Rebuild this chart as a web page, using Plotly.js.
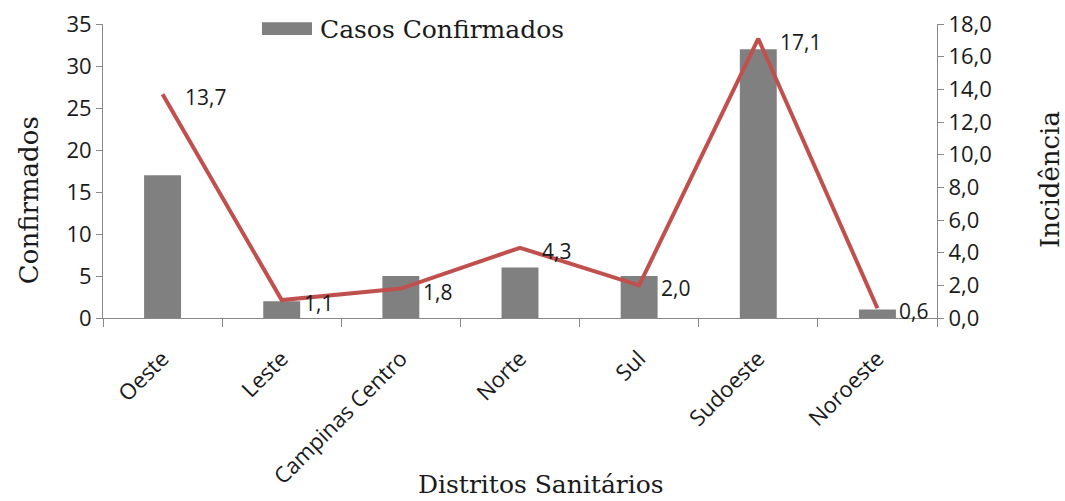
<!DOCTYPE html>
<html>
<head>
<meta charset="utf-8">
<script src="https://cdn.plot.ly/plotly-3.0.1.min.js"></script>
<style>html,body{margin:0;padding:0;background:#fff;}#chart{width:1065px;height:501px;}</style>
</head>
<body>
<div id="chart"></div>
<script>
const districts = ["Oeste", "Leste", "Campinas Centro", "Norte", "Sul", "Sudoeste", "Noroeste"];
const confirmed = [17, 2, 5, 6, 5, 32, 1];
const incidence = [13.7, 1.1, 1.8, 4.3, 2.0, 17.1, 0.6];
const seriesBarName = "Casos Confirmados";
const xTitle = "Distritos Sanitários";
const yTitle = "Confirmados";
const y2Title = "Incidência";

const tickFont = {family: "Open Sans, Noto Sans, sans-serif", size: 22, color: "#1a1a1a"};
const serif = {family: "DejaVu Serif, Liberation Serif, serif", size: 25, color: "#1a1a1a"};
const serifTitle = {family: "DejaVu Serif, Liberation Serif, serif", size: 26, color: "#1a1a1a"};

const traces = [
  {
    type: "bar", name: seriesBarName, x: districts, y: confirmed,
    marker: {color: "#808080"}, yaxis: "y", showlegend: false
  },
  {
    type: "scatter", mode: "lines", name: y2Title, x: districts, y: incidence,
    yaxis: "y2", line: {color: "#C0504D", width: 4}, showlegend: false
  }
];

// data labels for the incidence line, placed through the y2 scale
const annotations = districts.map((d, i) => ({
  x: d, y: incidence[i], xref: "x", yref: "y2",
  text: incidence[i].toFixed(1).replace(".", ","),
  showarrow: false, xanchor: "left", yanchor: "middle",
  xshift: 20, yshift: -3,
  font: {family: tickFont.family, size: 21, color: "#1a1a1a"}
}));

// legend label
annotations.push({
  x: 0.258, y: 0.982, xref: "paper", yref: "paper", text: seriesBarName,
  showarrow: false, xanchor: "left", yanchor: "middle", font: serif
});
// axis titles
annotations.push({
  x: -0.0887, y: 0.401, xref: "paper", yref: "paper", text: yTitle, textangle: -90,
  showarrow: false, xanchor: "center", yanchor: "middle", font: serifTitle
});
annotations.push({
  x: 1.1355, y: 0.469, xref: "paper", yref: "paper", text: y2Title, textangle: -90,
  showarrow: false, xanchor: "center", yanchor: "middle", font: serifTitle
});
annotations.push({
  x: 0.525, y: -0.568, xref: "paper", yref: "paper", text: xTitle,
  showarrow: false, xanchor: "center", yanchor: "middle", font: serif
});

const layout = {
  width: 1065, height: 501,
  margin: {l: 103, r: 128, t: 24, b: 183},
  paper_bgcolor: "#fff", plot_bgcolor: "#fff",
  separators: ",.",
  bargap: 0.69,
  showlegend: false,
  annotations: annotations,
  shapes: [{
    type: "rect", xref: "paper", yref: "paper",
    x0: 0.1906, x1: 0.2506, y0: 0.963, y1: 1.006,
    fillcolor: "#808080", line: {width: 0}
  }],
  xaxis: {
    type: "category", tickangle: -45, tickfont: tickFont, ticklabelstandoff: 18,
    showline: true, linecolor: "#888", linewidth: 1,
    ticks: "outside", tickson: "boundaries", ticklen: 8, tickcolor: "#888",
    showgrid: false, automargin: false
  },
  yaxis: {
    range: [0, 35], dtick: 5, tickfont: tickFont,
    showline: true, linecolor: "#888", ticks: "outside", ticklen: 6, tickcolor: "#888",
    showgrid: false, zeroline: false, automargin: false
  },
  yaxis2: {
    range: [0, 18], dtick: 2, tickformat: ".1f", overlaying: "y", side: "right",
    tickfont: tickFont, showline: true, linecolor: "#888", ticks: "outside", ticklen: 6, tickcolor: "#888",
    showgrid: false, zeroline: false, automargin: false
  }
};

Plotly.newPlot("chart", traces, layout, {displayModeBar: false, staticPlot: true});
</script>
</body>
</html>
